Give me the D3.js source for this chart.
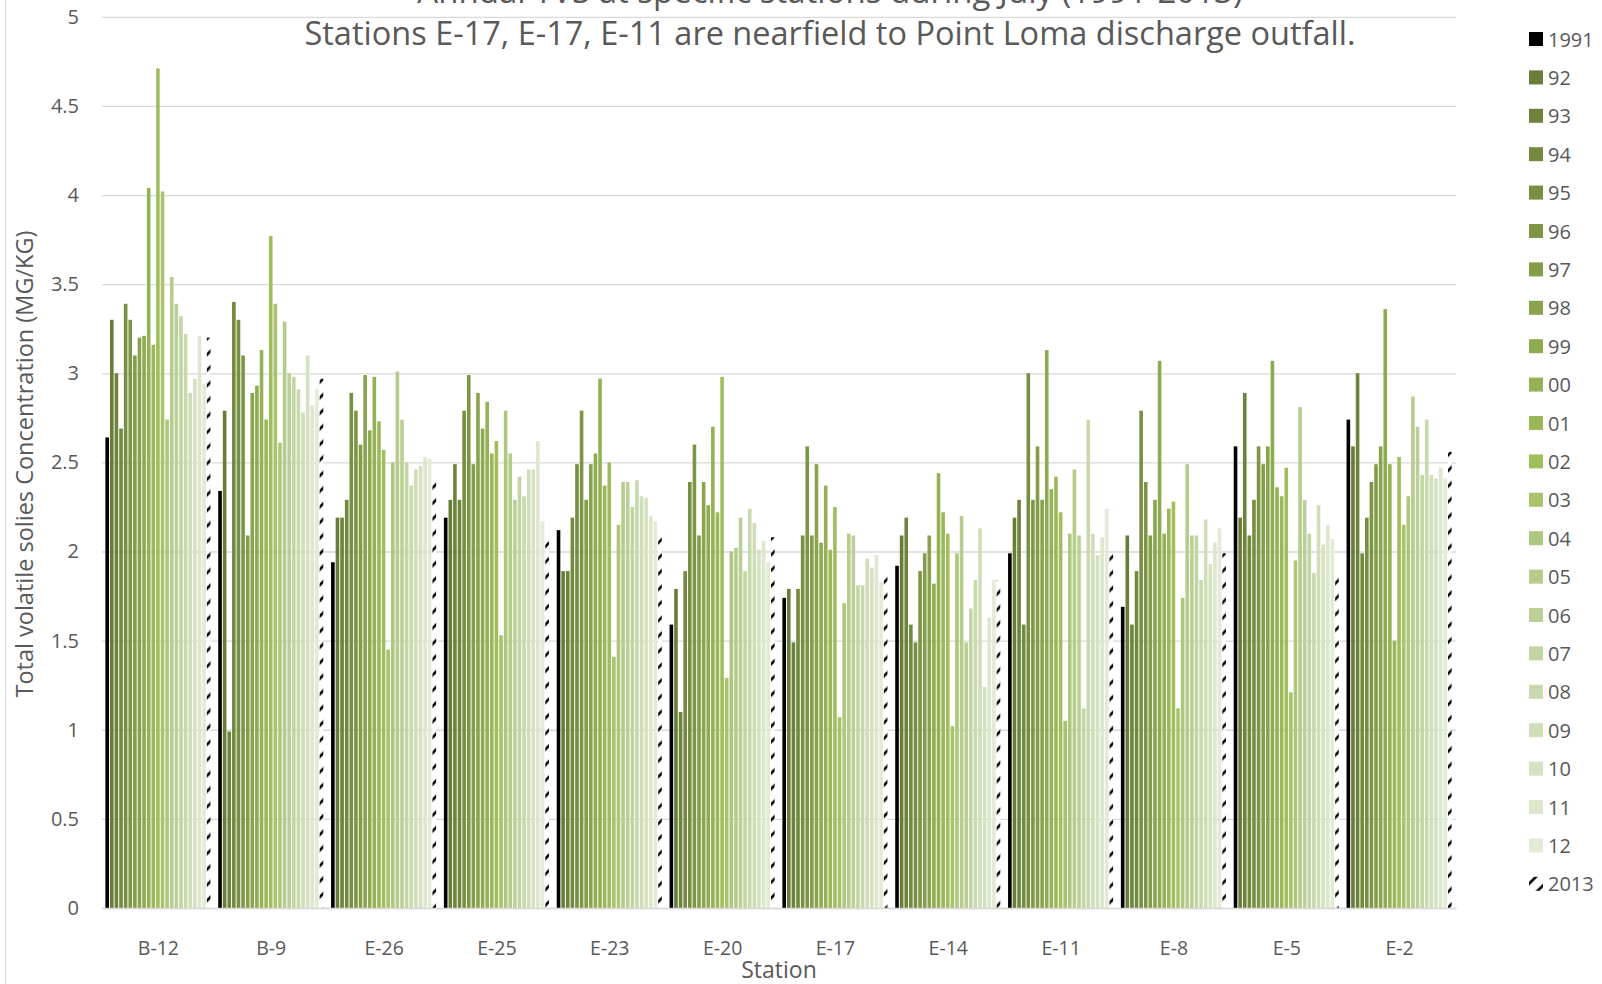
<!DOCTYPE html>
<html>
<head>
<meta charset="utf-8">
<script src="https://cdn.jsdelivr.net/npm/d3@7"></script>
<style>
  html, body { margin: 0; padding: 0; background: #fff; }
  svg { display: block; }
  text { font-family: "Open Sans", Lato, sans-serif; fill: #595959; }
</style>
</head>
<body>
<svg id="chart" width="1602" height="984"></svg>
<script>
// ---------- data ----------
const stations = ["B-12","B-9","E-26","E-25","E-23","E-20","E-17","E-14","E-11","E-8","E-5","E-2"];
const years = ["1991","92","93","94","95","96","97","98","99","00","01","02","03","04","05","06","07","08","09","10","11","12","2013"];
const yTicks = [0,0.5,1,1.5,2,2.5,3,3.5,4,4.5,5];

// values per station, in year order (1991 ... 2013)
const valB12 = [2.64,3.30,3.00,2.69,3.39,3.30,3.10,3.20,3.21,4.04,3.16,4.71,4.02,2.74,3.54,3.39,3.32,3.22,2.89,2.97,3.21,2.94,3.20];
const valB9  = [2.34,2.79,0.99,3.40,3.30,3.10,2.09,2.89,2.93,3.13,2.74,3.77,3.39,2.61,3.29,3.00,2.98,2.91,2.78,3.10,2.82,2.91,2.97];
const valE26 = [1.94,2.19,2.19,2.29,2.89,2.79,2.60,2.99,2.68,2.98,2.73,2.57,1.45,2.50,3.01,2.74,2.50,2.37,2.46,2.48,2.53,2.52,2.39];
const valE25 = [2.19,2.29,2.49,2.29,2.79,2.99,2.49,2.89,2.69,2.84,2.55,2.62,1.53,2.79,2.55,2.29,2.42,2.31,2.46,2.46,2.62,2.17,2.08];
const valE23 = [2.12,1.89,1.89,2.19,2.49,2.79,2.29,2.49,2.55,2.97,2.37,2.50,1.41,2.15,2.39,2.39,2.25,2.40,2.31,2.30,2.20,2.17,2.08];
const valE20 = [1.59,1.79,1.10,1.89,2.39,2.60,2.09,2.39,2.26,2.70,2.22,2.98,1.29,2.00,2.02,2.19,1.89,2.24,2.16,2.01,2.06,1.94,2.08];
const valE17 = [1.74,1.79,1.49,1.79,2.09,2.59,2.09,2.49,2.05,2.37,2.01,2.25,1.07,1.71,2.10,2.09,1.81,1.81,1.96,1.91,1.98,1.83,1.89];
const valE14 = [1.92,2.09,2.19,1.59,1.49,1.89,1.99,2.09,1.82,2.44,2.22,2.10,1.02,1.99,2.20,1.49,1.68,1.84,2.13,1.24,1.63,1.84,1.84];
const valE11 = [1.99,2.19,2.29,1.59,3.00,2.29,2.59,2.29,3.13,2.35,2.42,2.22,1.05,2.10,2.46,2.09,1.12,2.74,2.10,1.98,2.08,2.24,1.99];
const valE8  = [1.69,2.09,1.59,1.89,2.79,2.39,2.09,2.29,3.07,2.10,2.24,2.28,1.12,1.74,2.49,2.09,2.09,1.84,2.18,1.93,2.05,2.13,1.99];
const valE5  = [2.59,2.19,2.89,2.09,2.29,2.59,2.49,2.59,3.07,2.36,2.31,2.47,1.21,1.95,2.81,2.29,2.10,1.88,2.26,2.04,2.15,2.07,1.89];
const valE2  = [2.74,2.59,3.00,1.99,2.19,2.39,2.49,2.59,3.36,2.49,1.50,2.53,2.15,2.31,2.87,2.70,2.43,2.74,2.43,2.41,2.47,2.41,2.56];

const titleLine1 = "Annual TVS at specific stations during July (1991-2013)";
const titleLine2 = "Stations E-17, E-17, E-11 are nearfield to Point Loma discharge outfall.";
const yTitle = "Total volatile solies Concentration (MG/KG)";
const xTitle = "Station";

// ---------- build table ----------
const stationValues = [valB12,valB9,valE26,valE25,valE23,valE20,valE17,valE14,valE11,valE8,valE5,valE2];
const table = [];
stations.forEach((s, i) => years.forEach((y, j) => table.push({station: s, year: y, value: stationValues[i][j]})));

// ---------- styles ----------
const yearColors = ["#000000",
  "#687d38","#6d833b","#72893e","#778f42","#7d9645","#839d49","#89a44d","#8fab51","#95b155","#9bb858","#a1be5c",
  "#a8c36c","#aec77e","#b5cc8b","#bbd097","#c2d5a2","#c8d9ad","#cfdeb8","#d5e2c2","#dce7cc","#e2ebd6",
  "url(#hatch)"];
const color = d3.scaleOrdinal().domain(years).range(yearColors);

const svg = d3.select("#chart");
const defs = svg.append("defs");
const pat = defs.append("pattern").attr("id","hatch").attr("patternUnits","userSpaceOnUse")
  .attr("width",15.6).attr("height",15.6);
pat.append("rect").attr("width",15.6).attr("height",15.6).attr("fill","#fff");
pat.append("path").attr("d","M0,15.6L15.6,0M-3,3L3,-3M12.6,18.6L18.6,12.6")
  .attr("stroke","#000").attr("stroke-width",2.6);

// chart border line on the left
svg.append("line").attr("x1",5.5).attr("x2",5.5).attr("y1",0).attr("y2",984).attr("stroke","#d9d9d9");

const y = d3.scaleLinear().domain([0,5]).range([908,16.8]);
const x0 = d3.scaleBand().domain(stations).range([102,1456]).paddingInner(0.06).paddingOuter(0.03);
const x1 = d3.scaleBand().domain(years).range([0, x0.bandwidth()]);

// gridlines
const grid = svg.append("g").attr("transform","translate(102,0)")
  .call(d3.axisLeft(y).tickValues(yTicks).tickSize(-1354).tickFormat(""));
grid.select(".domain").remove();
grid.selectAll("line").attr("stroke","#d9d9d9").attr("stroke-width",1.3);

// y tick labels
const yAx = svg.append("g").attr("transform","translate(79,0)")
  .call(d3.axisLeft(y).tickValues(yTicks).tickSize(0).tickPadding(0).tickFormat(d3.format("~g")));
yAx.select(".domain").remove();
yAx.selectAll("text").attr("font-size",20).attr("fill","#595959").style("font-family","'Open Sans', sans-serif");

// bars
svg.append("g").selectAll("rect").data(table).join("rect")
  .attr("x", d => x0(d.station) + x1(d.year))
  .attr("width", x1.bandwidth() - 1)
  .attr("y", d => y(d.value))
  .attr("height", d => y(0) - y(d.value))
  .attr("fill", d => color(d.year));

// x axis
const xAx = svg.append("g").attr("transform","translate(0,908)")
  .call(d3.axisBottom(x0).tickSize(0).tickPadding(33));
xAx.select(".domain").attr("stroke","#d9d9d9").attr("stroke-width",1.3);
xAx.selectAll("text").attr("font-size",19.5).attr("fill","#595959").style("font-family","'Open Sans', sans-serif");

// axis titles
svg.append("text").attr("x",779).attr("y",978).attr("text-anchor","middle")
  .attr("font-size",23).text(xTitle);
svg.append("text").attr("transform","translate(33,464) rotate(-90)").attr("text-anchor","middle")
  .attr("font-size",23.5).text(yTitle);

// title (first line is cut off by the top edge, as in the original)
svg.append("text").attr("x",830).attr("y",3).attr("text-anchor","middle").attr("font-size",33).text(titleLine1);
svg.append("text").attr("x",830).attr("y",45).attr("text-anchor","middle").attr("font-size",32.5).text(titleLine2);

// legend
const lg = svg.append("g").selectAll("g").data(years).join("g")
  .attr("transform", (d,i) => `translate(1529,${39 + i*38.4})`);
lg.append("rect").attr("x",0).attr("y",-7).attr("width",14).attr("height",14)
  .attr("fill", d => color(d));
lg.append("text").attr("x",19).attr("y",7.5).attr("font-size",20).text(d => d);
</script>
</body>
</html>
